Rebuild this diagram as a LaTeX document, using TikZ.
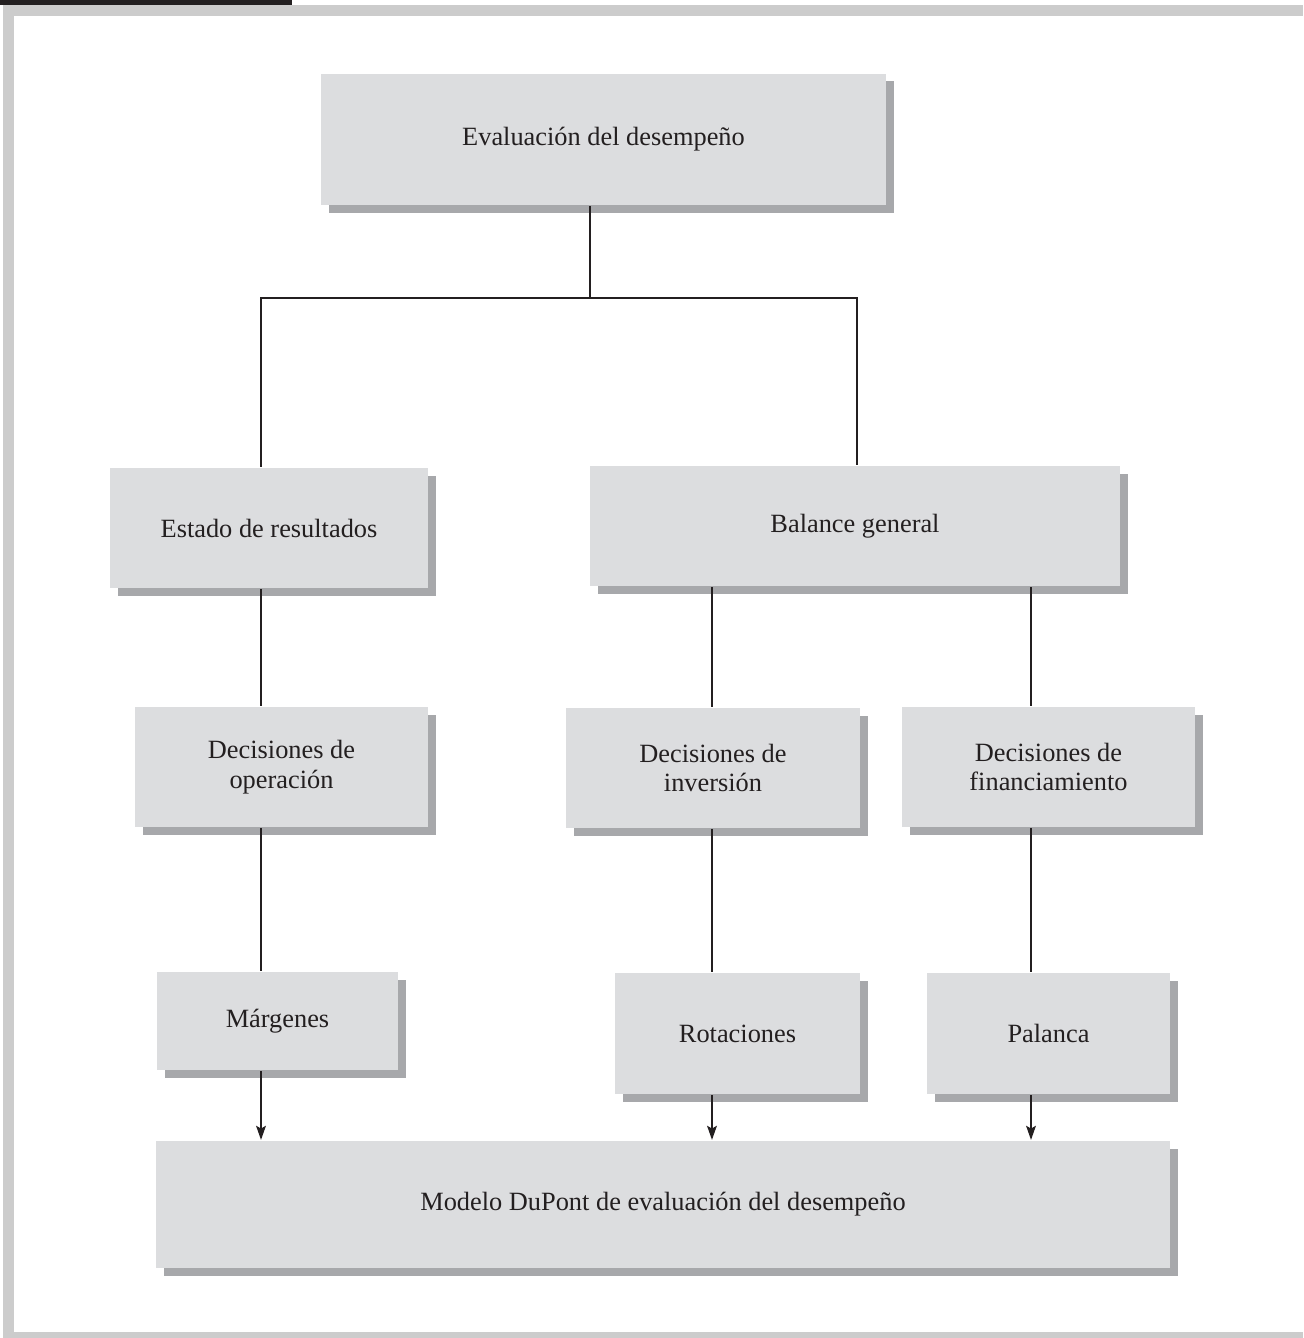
\documentclass[tikz,border=0pt]{standalone}
\usepackage{fontspec}
\setmainfont{Liberation Serif}
\usepackage{xcolor}
\usetikzlibrary{positioning, calc, arrows.meta, shadows}

\definecolor{boxgray}{HTML}{DCDDDF}
\definecolor{shadowgray}{HTML}{A7A8AB}
\definecolor{framegray}{HTML}{CCCCCC}
\definecolor{inkblack}{HTML}{231F20}

\begin{document}
\begin{tikzpicture}[line width=1.2pt, draw=inkblack]

        % Block definitions
        \tikzstyle{block} = [rectangle, fill=boxgray, text=inkblack, align=center, inner sep=0pt,
            font=\fontsize{15}{17}\selectfont,
            drop shadow={shadow xshift=0.15cm, shadow yshift=-0.15cm, fill=shadowgray, opacity=1}]
        \tikzstyle{link} = [draw=inkblack, line width=1.2pt]
        \tikzstyle{feed} = [link, -{Stealth[length=8pt, width=5.5pt, inset=1.5pt]}]

        % Page and frame
        \useasboundingbox (0,0) rectangle (26.06,-26.76);
        \fill[framegray] (0.06,-0.1) rectangle (26.06,-0.32);
        \fill[framegray] (0.06,-0.1) rectangle (0.28,-26.76);
        \fill[framegray] (0.06,-26.64) rectangle (26.06,-26.76);
        \fill[inkblack] (0,0) rectangle (5.84,-0.1);

        % Blocks
        \node[block, minimum width=11.3cm, minimum height=2.62cm] (eval) at (12.07,-2.79) {Evaluación del desempeño};
        \node[block, minimum width=6.36cm, minimum height=2.4cm] (estado) at (5.38,-10.56) {Estado de resultados};
        \node[block, minimum width=10.6cm, minimum height=2.4cm] (balance) at (17.1,-10.52) {Balance general};
        \node[block, minimum width=5.86cm, minimum height=2.4cm] (operacion) at (5.63,-15.34) {Decisiones de\\operación};
        \node[block, minimum width=5.88cm, minimum height=2.4cm] (inversion) at (14.26,-15.36) {Decisiones de\\inversión};
        \node[block, minimum width=5.86cm, minimum height=2.4cm] (financ) at (20.97,-15.34) {Decisiones de\\financiamiento};
        \node[block, minimum width=4.82cm, minimum height=1.96cm] (margenes) at (5.55,-20.42) {Márgenes};
        \node[block, minimum width=4.9cm, minimum height=2.42cm] (rotaciones) at (14.75,-20.67) {Rotaciones};
        \node[block, minimum width=4.86cm, minimum height=2.42cm] (palanca) at (20.97,-20.67) {Palanca};
        \node[block, minimum width=20.28cm, minimum height=2.54cm] (dupont) at (13.26,-24.09) {Modelo DuPont de evaluación del desempeño};

        % Columns and bus
        \coordinate (colL) at (5.22,0);
        \coordinate (colT) at (11.8,0);
        \coordinate (colB) at (17.14,0);
        \coordinate (colI) at (14.24,0);
        \coordinate (colF) at (20.62,0);
        \coordinate (bus) at (0,-5.96);

        % Lines
        \draw[link] (eval.south -| colT) -- (colT |- bus);
        \draw[link] (estado.north -| colL) |- (colT |- bus) -| (balance.north -| colB);
        \draw[link] (estado.south -| colL) -- (operacion.north -| colL);
        \draw[link] (balance.south -| colI) -- (inversion.north -| colI);
        \draw[link] (balance.south -| colF) -- (financ.north -| colF);
        \draw[link] (operacion.south -| colL) -- (margenes.north -| colL);
        \draw[link] (inversion.south -| colI) -- (rotaciones.north -| colI);
        \draw[link] (financ.south -| colF) -- (palanca.north -| colF);

        % Arrows
        \draw[feed] (margenes.south -| colL) -- (dupont.north -| colL);
        \draw[feed] (rotaciones.south -| colI) -- (dupont.north -| colI);
        \draw[feed] (palanca.south -| colF) -- (dupont.north -| colF);

    \end{tikzpicture}
\end{document}
